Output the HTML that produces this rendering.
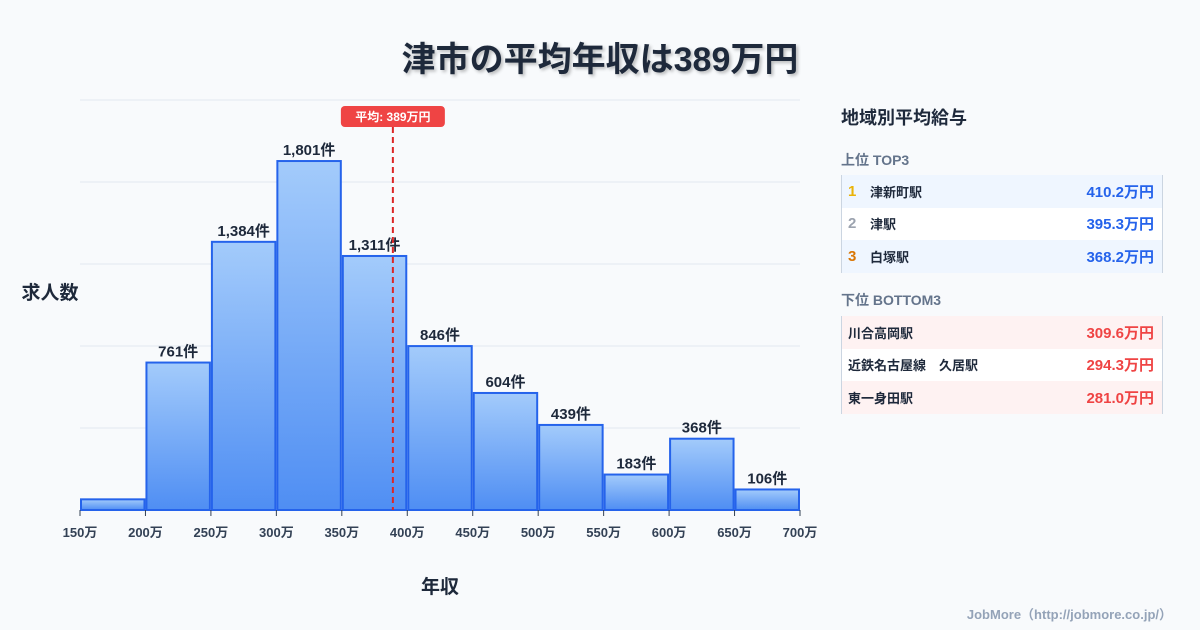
<!DOCTYPE html>
<html><head><meta charset="utf-8"><style>
body{margin:0;width:1200px;height:630px;background:#f8fafc;font-family:"Liberation Sans","Noto Sans CJK JP",sans-serif;overflow:hidden;position:relative;color:#1e293b}
.title{position:absolute;top:32px;left:0;width:1200px;text-align:center;font-size:34px;font-weight:bold;color:#1e293b;text-shadow:2px 2px 3px rgba(0,0,0,0.25)}
.side{position:absolute;left:841px;width:320px}
.row{height:32.5px;display:flex;align-items:center;font-size:13px;font-weight:bold;position:relative}
.row .n{width:22px;padding-left:6px;font-size:15px}
.row .v{position:absolute;right:8px;font-size:15px}
</style></head><body>
<div class="title">津市の平均年収は389万円</div>
<svg width="830" height="630" style="position:absolute;left:0;top:0">
<defs><linearGradient id="g" x1="0" y1="0" x2="0" y2="1"><stop offset="0" stop-color="#a3cbfb"/><stop offset="1" stop-color="#4f8ef3"/></linearGradient></defs>
<g id="grid"></g><g id="bars"></g><g id="axis"></g>
<text x="50" y="299" text-anchor="middle" font-size="19" font-weight="bold" fill="#1e293b">求人数</text>
<text x="440" y="593" text-anchor="middle" font-size="19" font-weight="bold" fill="#1e293b">年収</text>
</svg>
<div class="side" style="top:104px;font-size:18px;font-weight:bold">地域別平均給与</div>
<div class="side" style="top:150px;font-size:14px;font-weight:bold;color:#64748b">上位 TOP3</div>
<div class="side" style="top:175px;border-left:1px solid #cbd5e1;border-right:1px solid #cbd5e1">
<div class="row" style="background:#eff6ff"><span class="n" style="color:#eab308">1</span>津新町駅<span class="v" style="color:#2563eb">410.2万円</span></div>
<div class="row" style="background:#fff"><span class="n" style="color:#9ca3af">2</span>津駅<span class="v" style="color:#2563eb">395.3万円</span></div>
<div class="row" style="background:#eff6ff"><span class="n" style="color:#d97706">3</span>白塚駅<span class="v" style="color:#2563eb">368.2万円</span></div>
</div>
<div class="side" style="top:290px;font-size:14px;font-weight:bold;color:#64748b">下位 BOTTOM3</div>
<div class="side" style="top:316px;border-left:1px solid #cbd5e1;border-right:1px solid #cbd5e1">
<div class="row" style="background:#fef2f2;padding-left:6px">川合高岡駅<span class="v" style="color:#ef4444">309.6万円</span></div>
<div class="row" style="background:#fff;padding-left:6px">近鉄名古屋線　久居駅<span class="v" style="color:#ef4444">294.3万円</span></div>
<div class="row" style="background:#fef2f2;padding-left:6px">東一身田駅<span class="v" style="color:#ef4444">281.0万円</span></div>
</div>
<div style="position:absolute;right:28px;top:604px;font-size:13px;font-weight:bold;color:#94a3b8">JobMore（http://jobmore.co.jp/）</div>
<script>
const binStarts=[150,200,250,300,350,400,450,500,550,600,650];
const counts=[55,761,1384,1801,1311,846,604,439,183,368,106];
const labels=["","761件","1,384件","1,801件","1,311件","846件","604件","439件","183件","368件","106件"];
const xTicks=[150,200,250,300,350,400,450,500,550,600,650,700];
const meanValue=389;
const NS="http://www.w3.org/2000/svg";
const x0=80,x1=800,y0=510,y1=100,xmin=150,xmax=700,ymax=2116;
const X=v=>x0+(v-xmin)/(xmax-xmin)*(x1-x0);
const Y=v=>y0-v/ymax*(y0-y1);
function mk(t,a,p){const e=document.createElementNS(NS,t);for(const k in a)e.setAttribute(k,a[k]);document.getElementById(p).appendChild(e);return e;}
for(let i=0;i<=5;i++){const y=y0-i*(y0-y1)/5;const l=mk('line',{x1:x0,x2:x1,y1:y,y2:y,stroke:'#e2e8f0','stroke-width':1},'grid');

}
binStarts.forEach((s,i)=>{const xa=X(s)+1,xb=X(s+50)-1,yt=Y(counts[i]);
const r=mk('rect',{x:xa,y:yt,width:xb-xa,height:y0-yt,fill:'url(#g)',stroke:'#2563eb','stroke-width':2},'bars');


if(labels[i]){const t=mk('text',{x:(xa+xb)/2,y:yt-6,'text-anchor':'middle','font-size':15,'font-weight':'bold',fill:'#1e293b'},'bars');t.textContent=labels[i];

}});
xTicks.forEach(v=>{const l=mk('line',{x1:X(v),x2:X(v),y1:y0,y2:y0+6,stroke:'#334155','stroke-width':1},'axis');


const t=mk('text',{x:X(v),y:y0+27,'text-anchor':'middle','font-size':13,'font-weight':'bold',fill:'#334155'},'axis');t.textContent=v+'万';

});
const mx=X(meanValue);
const ml=mk('line',{x1:mx,x2:mx,y1:127,y2:y0,stroke:'#dc2626','stroke-width':2,'stroke-dasharray':'6,4'},'axis');


const mr=mk('rect',{x:mx-52,y:106,width:104,height:21,rx:4,fill:'#ef4444'},'axis');


const mt=mk('text',{x:mx,y:121,'text-anchor':'middle','font-size':12,'font-weight':'bold',fill:'#fff'},'axis');mt.textContent='平均: '+meanValue+'万円';


</script>
</body></html>
